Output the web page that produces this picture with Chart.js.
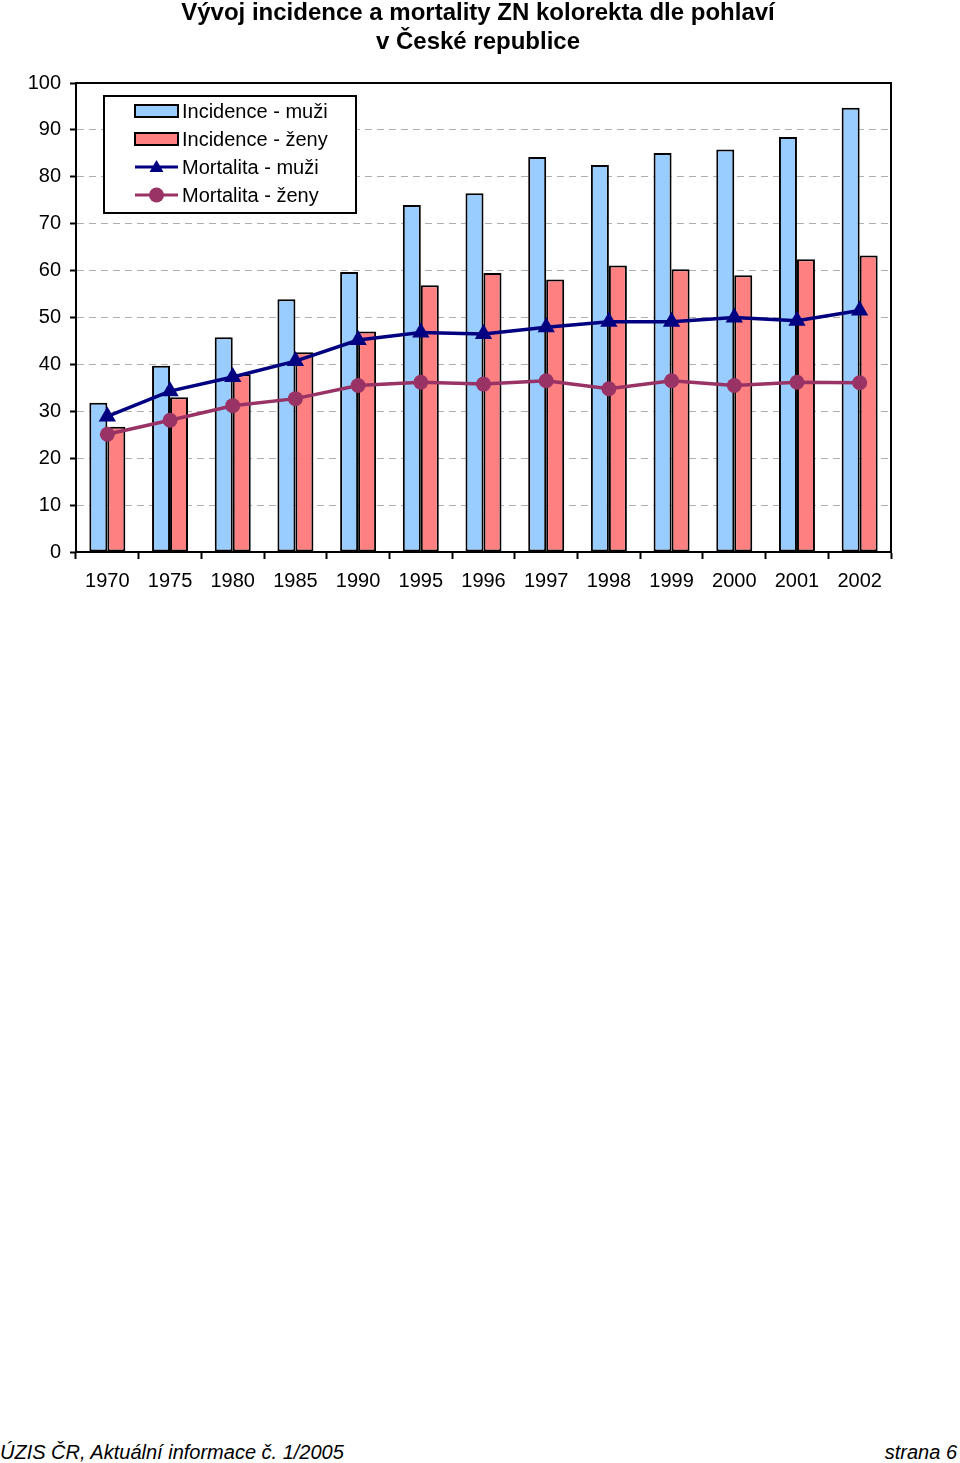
<!DOCTYPE html>
<html lang="cs">
<head>
<meta charset="utf-8">
<script src="https://cdn.jsdelivr.net/npm/chart.js@4/dist/chart.umd.min.js"></script>
<style>
  html, body { margin: 0; padding: 0; background: #fff; }
  body { width: 960px; height: 1463px; position: relative; overflow: hidden; font-family: "Liberation Sans", Arial, sans-serif; }
  .title { position: absolute; left: 0; width: 956px; text-align: center; font-weight: bold; font-size: 24px; color: #000; line-height: 30px; }
  #wrap { position: absolute; left: 0; top: 0; width: 960px; height: 600px; }
  .foot { position: absolute; top: 1440px; font-style: italic; font-size: 20px; line-height: 24px; color: #000; }
</style>
</head>
<body>
<div id="wrap"><canvas id="chart" width="960" height="600" style="width:960px;height:600px"></canvas></div>
<div class="title" style="top:-3px">Vývoj incidence a mortality ZN kolorekta dle pohlaví</div>
<div class="title" style="top:26px">v České republice</div>
<div class="foot" style="left:0">ÚZIS ČR, Aktuální informace č. 1/2005</div>
<div class="foot" style="right:3px">strana 6</div>
<script>
const years = ["1970", "1975", "1980", "1985", "1990", "1995", "1996", "1997", "1998", "1999", "2000", "2001", "2002"];
const incidenceMuzi = [31.8, 39.7, 45.8, 53.9, 59.7, 74.0, 76.5, 84.2, 82.5, 85.1, 85.8, 88.5, 94.7];
const incidenceZeny = [26.7, 33.0, 37.9, 42.6, 47.0, 56.9, 59.5, 58.1, 61.1, 60.3, 59.0, 62.4, 63.2];
const mortalitaMuzi = [28.9, 34.3, 37.3, 40.7, 45.2, 46.8, 46.5, 47.9, 49.1, 49.1, 50.0, 49.3, 51.5];
const mortalitaZeny = [25.1, 28.1, 31.2, 32.7, 35.5, 36.2, 35.8, 36.5, 34.8, 36.5, 35.5, 36.2, 36.1];
const yTicks = [0, 10, 20, 30, 40, 50, 60, 70, 80, 90, 100];

const FONT = "'Liberation Sans', Arial, sans-serif";

// frame around plot area + boxed legend in top-left corner
const framePlugin = {
    id: "frame",
    afterDatasetsDraw(chart) {
        const { ctx, chartArea: a } = chart;
        ctx.save();
        ctx.strokeStyle = "#000";
        ctx.lineWidth = 2;
        ctx.strokeRect(a.left, a.top, a.right - a.left, a.bottom - a.top);
        ctx.restore();
    },
    afterDraw(chart) {
        const { ctx, chartArea: a } = chart;
        const bx = a.left + 28, by = a.top + 13, bw = 252, bh = 117;
        ctx.save();
        ctx.fillStyle = "#fff";
        ctx.fillRect(bx, by, bw, bh);
        ctx.strokeStyle = "#000";
        ctx.lineWidth = 2;
        ctx.strokeRect(bx, by, bw, bh);
        ctx.font = "20px " + FONT;
        ctx.textBaseline = "middle";
        chart.data.datasets.forEach((ds, i) => {
            const cy = by + 15 + i * 28;
            const sx = bx + 31, sw = 43;
            if (ds.type === "line") {
                ctx.strokeStyle = ds.borderColor;
                ctx.lineWidth = 3;
                ctx.beginPath();
                ctx.moveTo(sx, cy);
                ctx.lineTo(sx + sw, cy);
                ctx.stroke();
                ctx.fillStyle = ds.borderColor;
                ctx.beginPath();
                if (ds.pointStyle === "triangle") {
                    ctx.moveTo(sx + sw / 2, cy - 7);
                    ctx.lineTo(sx + sw / 2 + 7, cy + 5);
                    ctx.lineTo(sx + sw / 2 - 7, cy + 5);
                    ctx.closePath();
                } else {
                    ctx.arc(sx + sw / 2, cy, 7.5, 0, Math.PI * 2);
                }
                ctx.fill();
            } else {
                ctx.fillStyle = ds.backgroundColor;
                ctx.fillRect(sx, cy - 6, sw, 12);
                ctx.strokeStyle = "#000";
                ctx.lineWidth = 2;
                ctx.strokeRect(sx, cy - 6, sw, 12);
            }
            ctx.fillStyle = "#000";
            ctx.fillText(ds.label, bx + 78, cy + 1);
        });
        ctx.restore();
    }
};

new Chart(document.getElementById("chart"), {
    type: "bar",
    data: {
        labels: years,
        datasets: [
            { type: "bar", label: "Incidence - muži", data: incidenceMuzi, backgroundColor: "#99CCFF", borderColor: "#000", borderWidth: 2, borderSkipped: false, order: 2, categoryPercentage: 0.574, barPercentage: 1.0 },
            { type: "bar", label: "Incidence - ženy", data: incidenceZeny, backgroundColor: "#FF8080", borderColor: "#000", borderWidth: 2, borderSkipped: false, order: 2, categoryPercentage: 0.574, barPercentage: 1.0 },
            { type: "line", label: "Mortalita - muži", data: mortalitaMuzi, borderColor: "#000080", backgroundColor: "#000080", borderWidth: 3.5, pointStyle: "triangle", pointRadius: 10, pointBorderWidth: 0, pointBackgroundColor: "#000080", tension: 0, order: 0 },
            { type: "line", label: "Mortalita - ženy", data: mortalitaZeny, borderColor: "#993366", backgroundColor: "#993366", borderWidth: 3.5, pointStyle: "circle", pointRadius: 7.5, pointBorderWidth: 0, pointBackgroundColor: "#993366", tension: 0, order: 1 }
        ]
    },
    options: {
        responsive: false,
        maintainAspectRatio: false,
        animation: false,
        devicePixelRatio: 1,
        layout: { padding: { top: 83, right: 69, left: 0, bottom: 0 } },
        plugins: { legend: { display: false }, tooltip: { enabled: false }, title: { display: false } },
        scales: {
            x: {
                offset: true,
                grid: { offset: true, drawOnChartArea: false, drawTicks: true, tickLength: 7, tickColor: "#000", tickWidth: 2, tickBorderDash: [] },
                border: { display: true, color: "#000", width: 2 },
                ticks: { color: "#000", font: { family: FONT, size: 20 }, padding: 10, maxRotation: 0, autoSkip: false },
                afterFit(scale) { scale.height = 48; }
            },
            y: {
                min: 0,
                max: 100,
                afterBuildTicks(scale) { scale.ticks = yTicks.map(v => ({ value: v })); },
                grid: {
                    color: ctx => (ctx.tick && (ctx.tick.value === 0 || ctx.tick.value === 100)) ? "rgba(0,0,0,0)" : "#b0b0b0",
                    lineWidth: 1,
                    drawTicks: true, tickLength: 6, tickColor: "#000", tickWidth: 2, tickBorderDash: []
                },
                border: { display: true, color: "#000", width: 2, dash: [7, 5] },
                ticks: { color: "#000", font: { family: FONT, size: 20 }, padding: 9 },
                afterFit(scale) { scale.width = 76; }
            }
        }
    },
    plugins: [framePlugin]
});
</script>
</body>
</html>
